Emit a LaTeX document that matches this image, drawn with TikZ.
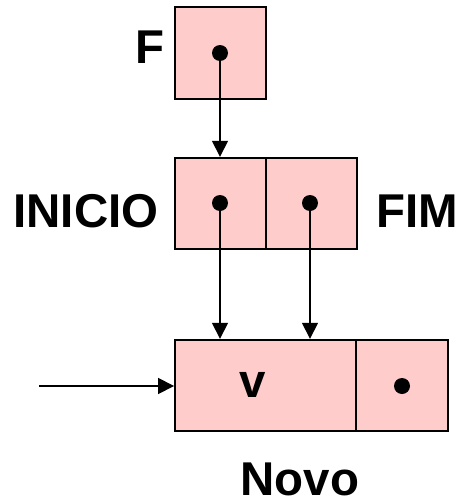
\documentclass[tikz,border=0pt]{standalone}
\usepackage{fontspec}
\setmainfont{Liberation Sans}
\usetikzlibrary{arrows.meta}
\definecolor{cellpink}{RGB}{255,204,204}
\tikzset{
  cell/.style={draw=black, line width=1.1pt, fill=cellpink, minimum height=1.83cm, inner sep=0pt},
  dot/.style={circle, fill=black, minimum size=0.32cm, inner sep=0pt},
  lbl/.style={font=\fontsize{27}{30}\selectfont\bfseries, inner sep=0pt},
  ptr/.style={line width=0.9pt, -{Triangle[length=0.32cm, width=0.32cm]}}
}
\begin{document}
\begin{tikzpicture}[x=0.02cm, y=-0.02cm]
\useasboundingbox (0,0) rectangle (460,504);
% variavel F
\node[cell, minimum width=1.82cm] (f) at (220.5,53) {};
\node[lbl] (fl) at (150,47.5) {F};
\node[dot] (df) at (220,53) {};
% descritor
\node[cell, minimum width=1.82cm] (ini) at (220.5,203.5) {};
\node[cell, minimum width=1.82cm] (fim) at (311.5,203.5) {};
\node[lbl] (inil) at (86,211.5) {INICIO};
\node[lbl] (fiml) at (417,211.5) {FIM};
\node[dot] (dini) at (220,203) {};
\node[dot] (dfim) at (310,203) {};
% no novo
\node[cell, minimum width=3.62cm] (val) at (265.5,385.5) {};
\node[cell, minimum width=1.84cm] (nxt) at (402,385.5) {};
\node[lbl] (vl) at (253,385) {v};
\node[dot] (dnxt) at (402,386) {};
\node[lbl] (novo) at (300,479.5) {Novo};
\coordinate (in) at (39,386);
% ponteiros
\draw[ptr] (df.center) -- (df |- ini.north);
\draw[ptr] (dini.center) -- (dini |- val.north);
\draw[ptr] (dfim.center) -- (dfim |- val.north);
\draw[ptr] (in) -- (in -| val.west);
\end{tikzpicture}
\end{document}
